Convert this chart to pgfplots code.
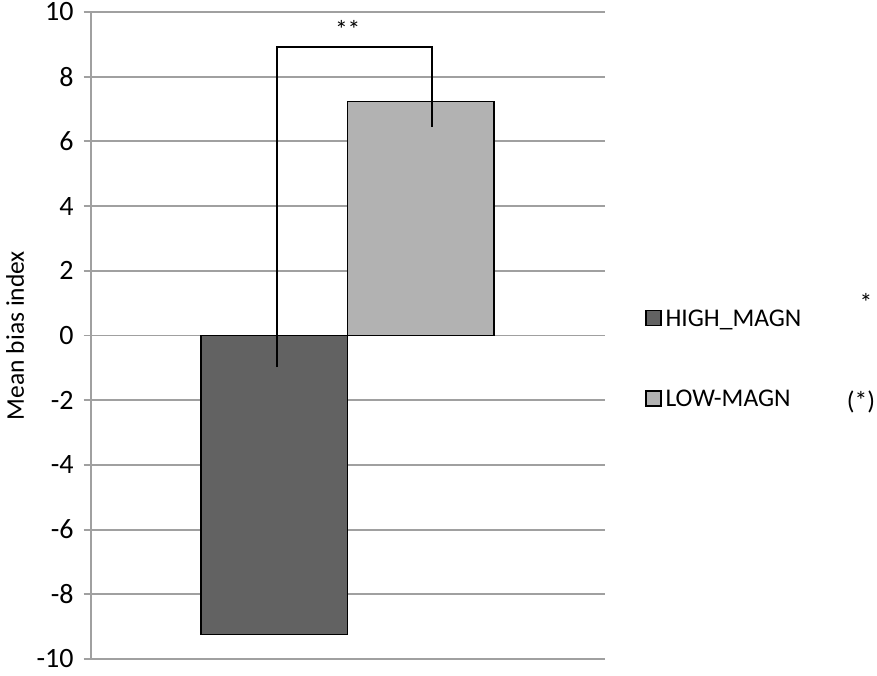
\documentclass[border=0pt]{standalone}
\usepackage{pgfplots}
\pgfplotsset{compat=1.18}
\usepackage{fontspec}
\setmainfont{Carlito}
\usetikzlibrary{calc}
\definecolor{gridgray}{RGB}{160,160,160}
\definecolor{highc}{RGB}{98,98,98}
\definecolor{lowc}{RGB}{178,178,178}
\pgfplotsset{sqlegend/.style={legend image code/.code={\draw[##1] (0pt,-3.75pt) rectangle (7.5pt,3.75pt);}}}
\begin{document}
\begin{tikzpicture}[font=\fontsize{12.75}{15.3}\selectfont]
\begin{axis}[
  scale only axis, width=257.15pt, height=323.5pt,
  xmin=0, xmax=514.3, ymin=-10, ymax=10,
  axis x line=none, axis y line=left,
  y axis line style={-, draw=gridgray, line width=0.9pt},
  ytick={-10,-8,-6,-4,-2,0,2,4,6,8,10},
  yticklabels={-10,-8,-6,-4,-2,0,2,4,6,8,10},
  tick align=outside, major tick length=3.5pt,
  ytick style={draw=gridgray, line width=0.9pt},
  ymajorgrids, grid style={draw=gridgray, line width=0.9pt},
  yticklabel style={xshift=-1.5pt, inner ysep=0pt, font=\fontsize{14}{16}\selectfont},
  ylabel={Mean bias index},
  ylabel style={at={(axis description cs:-0.1297,0.5)}, anchor=base},
  clip=false,
  legend style={at={(1.0778,0.540)}, anchor=north west, draw=none, fill=none,
    inner sep=0pt, outer sep=0pt, row sep=32.1pt, column sep=2pt,
    cells={anchor=west},
    nodes={inner sep=0pt, text height=8.22pt, text depth=0pt}},
]
\addplot[ybar, bar width=146.7, bar shift=0pt, fill=highc, draw=black, line width=0.75pt, sqlegend]
  coordinates {(183.65,-9.25)};
\addplot[ybar, bar width=146.3, bar shift=0pt, fill=lowc, draw=black, line width=0.75pt, sqlegend]
  coordinates {(330.15,7.24)};
\legend{HIGH\_MAGN, LOW-MAGN}
\addplot[black, line width=1pt, forget plot]
  coordinates {(186.6,-0.98) (186.6,8.93) (341.6,8.93) (341.6,6.44)};
\node[anchor=base] at (axis cs:257,9.18) {**};
\node[anchor=base] at (axis cs:775.3,0.74) {*};
\node[anchor=base] at (axis cs:770.3,-2.29) {(*)};
\coordinate (bl) at (rel axis cs:0,0);
\coordinate (tr) at (rel axis cs:1,1);
\end{axis}
\pgfresetboundingbox
\path ($(bl)+(-45.35pt,-8pt)$) rectangle ($(tr)+(136pt,6pt)$);
\end{tikzpicture}
\end{document}
